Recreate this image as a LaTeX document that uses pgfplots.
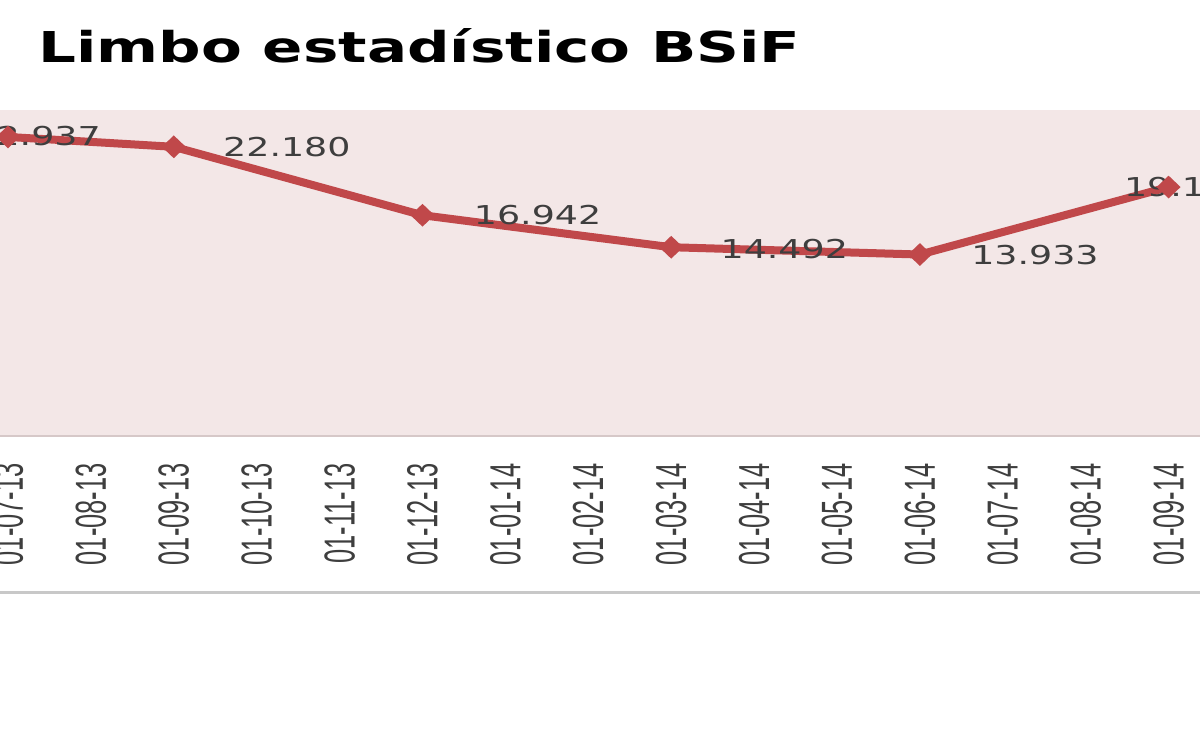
\documentclass[border=0pt]{standalone}
\usepackage{pgfplots}
\pgfplotsset{compat=1.18}
\usepackage{fontspec}
\usepackage{graphicx}
\newfontfamily\dejavu{DejaVu Sans}
\newfontfamily\libsans{Liberation Sans}
\definecolor{bgpink}{RGB}{243,231,231}
\definecolor{linered}{RGB}{192,72,74}
\definecolor{lblgray}{RGB}{62,62,62}
\definecolor{edgepink}{RGB}{214,200,200}
\definecolor{framegray}{RGB}{200,200,200}
\newcommand\XL[1]{\scalebox{1.4}[1]{\rotatebox{90}{\scalebox{0.82}[1]{\libsans\fontsize{15.5}{16}\selectfont #1}}}}
\newcommand\DL[1]{\scalebox{1.4}[1]{\dejavu\fontsize{13}{14}\selectfont #1}}
\begin{document}
\begin{tikzpicture}
\useasboundingbox (0,0) rectangle (600pt,367pt);
\clip (0,0) rectangle (600pt,367pt);
\fill[white] (0,0) rectangle (600pt,367pt);
\node[anchor=base west, inner sep=0pt] at (19pt,335.5pt)
  {\scalebox{1.4}[1]{\dejavu\bfseries\fontsize{21.25}{24}\selectfont Limbo estadístico BSiF}};
\draw[framegray, line width=1.5pt] (0,70.5pt) -- (600pt,70.5pt);
\begin{axis}[
  at={(-37.45pt,148.75pt)}, anchor=south west,
  scale only axis, width=663.2pt, height=163.25pt,
  xmin=-1, xmax=15, ymin=0, ymax=25,
  axis background/.style={fill=bgpink},
  axis line style={draw=none},
  xtick={0,...,14},
  xticklabels={\XL{01-07-13},\XL{01-08-13},\XL{01-09-13},\XL{01-10-13},\XL{01-11-13},\XL{01-12-13},\XL{01-01-14},\XL{01-02-14},\XL{01-03-14},\XL{01-04-14},\XL{01-05-14},\XL{01-06-14},\XL{01-07-14},\XL{01-08-14},\XL{01-09-14}},
  xticklabel style={anchor=north, inner sep=0pt, yshift=-13.25pt, text=lblgray},
  ytick=\empty,
  major tick length=0pt,
  clip=false,
]
\draw[edgepink, line width=1pt] (rel axis cs:0,0) -- (rel axis cs:1,0);
\addplot[linered, line width=4pt, mark=diamond*, mark size=5pt,
  mark options={xscale=1.4, line width=1pt, fill=linered}]
  coordinates {(0,22.937) (2,22.180) (5,16.942) (8,14.492) (11,13.933) (14,19.1)};
\node[anchor=west, inner sep=0pt, text=lblgray, xshift=-17.5pt, yshift=0.5pt] at (axis cs:0,22.937) {\DL{22.937}};
\node[anchor=west, inner sep=0pt, text=lblgray, xshift=24.5pt] at (axis cs:2,22.180) {\DL{22.180}};
\node[anchor=west, inner sep=0pt, text=lblgray, xshift=25.5pt] at (axis cs:5,16.942) {\DL{16.942}};
\node[anchor=west, inner sep=0pt, text=lblgray, xshift=24.5pt, yshift=-1pt] at (axis cs:8,14.492) {\DL{14.492}};
\node[anchor=west, inner sep=0pt, text=lblgray, xshift=25.5pt, yshift=-0.5pt] at (axis cs:11,13.933) {\DL{13.933}};
\node[anchor=west, inner sep=0pt, text=lblgray, xshift=-22.5pt] at (axis cs:14,19.1) {\DL{19.1}};
\end{axis}
\end{tikzpicture}
\end{document}
